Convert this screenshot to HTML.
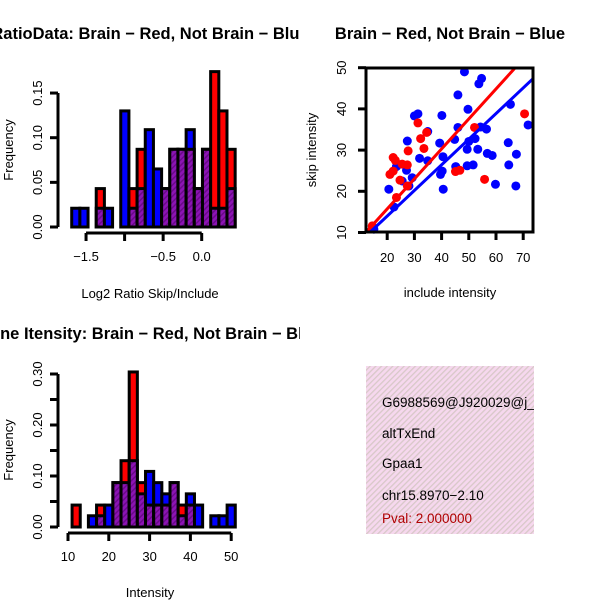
<!DOCTYPE html>
<html><head><meta charset="utf-8"><style>
body{margin:0;background:#fff}
svg{display:block;font-family:"Liberation Sans",sans-serif}
</style></head><body>
<svg id="s" width="600" height="600" viewBox="0 0 600 600">
<defs>
<pattern id="hatch" width="4" height="4" patternUnits="userSpaceOnUse" patternTransform="rotate(45)">
<rect width="4" height="4" fill="#8c14b4"/><rect width="1.5" height="4" fill="#6a0a8a"/></pattern>
<pattern id="pink" width="4" height="4" patternUnits="userSpaceOnUse" patternTransform="rotate(45)">
<rect width="4" height="4" fill="#f6d8ee"/><rect width="1.3" height="4" fill="#d8c8c8"/></pattern>
<clipPath id="scClip"><rect x="366" y="68" width="167" height="164"/></clipPath>
<clipPath id="leftClip"><rect x="0" y="0" width="300" height="600"/></clipPath>
<clipPath id="infoClip"><rect x="366" y="366" width="168" height="168"/></clipPath>
</defs>
<g id="h1" clip-path="url(#leftClip)"></g>
<g id="h2" clip-path="url(#leftClip)"></g>
<g id="sc"></g>
<g clip-path="url(#infoClip)">
<rect x="366" y="366" width="168" height="168" fill="url(#pink)"/>
<text x="382" y="407" font-size="13.5">G6988569@J920029@j_</text>
<text x="382" y="438" font-size="13.5">altTxEnd</text>
<text x="382" y="468" font-size="13.5">Gpaa1</text>
<text x="382" y="500" font-size="13.5">chr15.8970−2.10</text>
<text x="382" y="523" font-size="13.5" fill="#b00000">Pval: 2.000000</text>
</g>
</svg>
<script>
// Histogram 1 data (Log2 ratio)
const h1Red  = [0,0,0,0.043,0,0,0,0.043,0.087,0,0,0.043,0.087,0.087,0.087,0.043,0.087,0.174,0.13,0.087];
const h1Blue = [0.021,0.021,0,0.021,0.021,0,0.13,0.021,0.043,0.109,0.065,0.043,0.087,0.087,0.109,0.043,0.087,0.021,0.021,0.043];
const h1BinStart = -1.686, h1BinWidth = 0.106;
const h1XTicks = [-1.5,-1.0,-0.5,0.0];
const h1XLabels = ["-1.5","","-0.5","0.0"];
const h1YTicks = [0,0.05,0.10,0.15];
const h1YLabels = ["0.00","0.05","0.10","0.15"];
// Histogram 2 data (intensity)
const h2Red  = [0.043,0,0,0.043,0,0.087,0.13,0.304,0.087,0.043,0.043,0.043,0.087,0.043,0.043,0,0,0,0,0];
const h2Blue = [0,0,0.022,0.022,0.043,0.087,0.087,0.13,0.065,0.109,0.087,0.065,0.087,0.022,0.065,0.043,0,0.022,0.022,0.043];
const h2BinStart = 11, h2BinWidth = 2;
const h2XTicks = [10,20,30,40,50];
const h2XLabels = ["10","20","30","40","50"];
const h2YTicks = [0,0.05,0.10,0.15,0.20,0.25,0.30];
const h2YLabels = ["0.00","","0.10","","0.20","","0.30"];
// Scatter data
const blueX = [48.4,54.7,53.7,46,49.7,65.3,71.8,56.5,54.3,46,31.3,30,34.9,40.1,27.4,31.9,34.9,39.3,40.5,44.8,50,49.4,52.3,53.3,56.8,58.6,64.5,67.5,64.7,45.2,49.4,51.6,39.6,40.2,40.6,59.8,67.3,20.6,23.4,27.1,25.5,28,29.2,22.5,15.1];
const blueY = [49,47.4,46.1,43.4,39.9,41.1,36.1,35.1,35.6,35.5,38.8,38.3,34.5,38.4,32.2,28,27.4,31.7,28.4,32.6,32.1,30.2,32.8,30.2,29.2,28.7,31.8,29,26.4,26,26.2,26.4,24.1,24.9,20.5,21.7,21.3,20.5,26,25.1,22.5,21.3,23.3,16.2,10.8];
const redX = [31.3,34.5,32.3,33.5,27.7,22.2,23,27.4,25.5,21,22.2,24.7,27.4,23.4,45.1,46.7,52.1,55.8,70.5,14.5];
const redY = [36.6,34.3,32.8,30.4,29.8,28.2,27.5,26.4,26.6,24.1,24.9,22.7,21.3,18.5,24.8,25.1,35.5,22.9,38.8,11.6];
const redFit = [1.17,0.728];   // intercept, slope
const blueFit = [1.55,0.622];
const scXTicks = [20,30,40,50,60,70];
const scYTicks = [10,20,30,40,50];

const NS="http://www.w3.org/2000/svg";
function mk(p,tag,at,txt){const e=document.createElementNS(NS,tag);for(const k in at)e.setAttribute(k,at[k]);if(txt!==undefined)e.textContent=txt;p.appendChild(e);return e;}

function hist(g,o){
  const X=v=>o.x0+(v-o.xv0)*o.xs, Y=v=>o.y0-v*o.ys;
  for(let i=0;i<o.red.length;i++){
    const a=o.binStart+i*o.binWidth, b=a+o.binWidth, r=o.red[i], bl=o.blue[i];
    const hi=Math.max(r,bl), lo=Math.min(r,bl);
    if(hi>0){
      const e=mk(g,'rect',{x:X(a),y:Y(hi),width:X(b)-X(a),height:Y(0)-Y(hi),fill:r>=bl?'#ff0000':'#0000ff',stroke:'#000','stroke-width':3});
      
      
    }
    if(lo>0){
      const e=mk(g,'rect',{x:X(a),y:Y(lo),width:X(b)-X(a),height:Y(0)-Y(lo),fill:'url(#hatch)',stroke:'#000','stroke-width':3});
      
      
    }
  }
  const ya=mk(g,'g',{});
  
  
  const yt=o.yTicks;
  mk(ya,'line',{x1:o.axX,x2:o.axX,y1:Y(yt[0]),y2:Y(yt[yt.length-1]),stroke:'#000','stroke-width':3});
  yt.forEach((v,i)=>{mk(ya,'line',{x1:o.axX-8,x2:o.axX,y1:Y(v),y2:Y(v),stroke:'#000','stroke-width':3});
    if(o.yLabels[i]){const t=mk(ya,'text',{x:0,y:0,'font-size':13,'text-anchor':'middle',transform:`translate(${o.axX-16},${Y(v)}) rotate(-90)`},o.yLabels[i]);
      
      }});
  const xa=mk(g,'g',{});
  
  
  const xt=o.xTicks;
  mk(xa,'line',{x1:X(xt[0]),x2:X(xt[xt.length-1]),y1:o.axY,y2:o.axY,stroke:'#000','stroke-width':3});
  xt.forEach((v,i)=>{mk(xa,'line',{x1:X(v),x2:X(v),y1:o.axY,y2:o.axY+8,stroke:'#000','stroke-width':3});
    if(o.xLabels[i]){const t=mk(xa,'text',{x:X(v),y:o.axY+28,'font-size':13,'text-anchor':'middle'},o.xLabels[i].replace('-','−'));
      
      }});
  const yl=mk(g,'text',{x:0,y:0,'font-size':13,'text-anchor':'middle',transform:`translate(13,${o.yMid}) rotate(-90)`},'Frequency');
  
  
  const xl=mk(g,'text',{x:150,y:o.xlY,'font-size':13,'text-anchor':'middle'},o.xLabel);
  
  
  const ti=mk(g,'text',{x:150,y:o.tY,'font-size':16.5,'font-weight':'bold','text-anchor':'middle'},o.title);
  
  
}
hist(document.getElementById('h1'),{red:h1Red,blue:h1Blue,binStart:h1BinStart,binWidth:h1BinWidth,
  x0:201.7,xv0:0,xs:77.1,y0:227,ys:893,axX:58,axY:233,xTicks:h1XTicks,xLabels:h1XLabels,yTicks:h1YTicks,yLabels:h1YLabels,
  yMid:150,xlY:298,tY:39,xLabel:'Log2 Ratio Skip/Include',title:'RatioData: Brain − Red, Not Brain − Blue'});
hist(document.getElementById('h2'),{red:h2Red,blue:h2Blue,binStart:h2BinStart,binWidth:h2BinWidth,
  x0:68,xv0:10,xs:4.08,y0:527,ys:510,axX:58,axY:533,xTicks:h2XTicks,xLabels:h2XLabels,yTicks:h2YTicks,yLabels:h2YLabels,
  yMid:450,xlY:597,tY:339,xLabel:'Intensity',title:'Gene Itensity: Brain − Red, Not Brain − Blue'});

(function(){
  const g=document.getElementById('sc');
  const X=v=>360+(v-10)*2.72, Y=v=>232.5-(v-10)*4.12;
  const pts=mk(g,'g',{});
  
  
  blueX.forEach((x,i)=>{const c=mk(pts,'circle',{cx:X(x),cy:Y(blueY[i]),r:4.5,fill:'#0000ff'});
    
    });
  redX.forEach((x,i)=>{const c=mk(pts,'circle',{cx:X(x),cy:Y(redY[i]),r:4.5,fill:'#ff0000'});
    
    });
  const cl=mk(g,'g',{'clip-path':'url(#scClip)'});
  [[blueFit,'#0000ff','fit-line-blue'],[redFit,'#ff0000','fit-line-red']].forEach(([f,c,n])=>{
    const l=mk(cl,'line',{x1:X(0),y1:Y(f[0]),x2:X(90),y2:Y(f[0]+f[1]*90),stroke:c,'stroke-width':3});
    
    });
  const bx=mk(g,'rect',{x:366,y:68,width:167,height:164,fill:'none',stroke:'#000','stroke-width':3});
  
  
  scXTicks.forEach(v=>{mk(g,'line',{x1:X(v),x2:X(v),y1:232,y2:240,stroke:'#000','stroke-width':3});
    const t=mk(g,'text',{x:X(v),y:262,'font-size':13,'text-anchor':'middle'},v);
    
    });
  scYTicks.forEach(v=>{mk(g,'line',{x1:358,x2:366,y1:Y(v),y2:Y(v),stroke:'#000','stroke-width':3});
    const t=mk(g,'text',{x:0,y:0,'font-size':13,'text-anchor':'middle',transform:`translate(346,${Y(v)}) rotate(-90)`},v);
    
    });
  const yl=mk(g,'text',{x:0,y:0,'font-size':13,'text-anchor':'middle',transform:'translate(316,150) rotate(-90)'},'skip intensity');
  
  
  const xl=mk(g,'text',{x:450,y:297,'font-size':13,'text-anchor':'middle'},'include intensity');
  
  
  const ti=mk(g,'text',{x:450,y:39,'font-size':16.5,'font-weight':'bold','text-anchor':'middle'},'Brain − Red, Not Brain − Blue');
  
  
})();
</script>
</body></html>
